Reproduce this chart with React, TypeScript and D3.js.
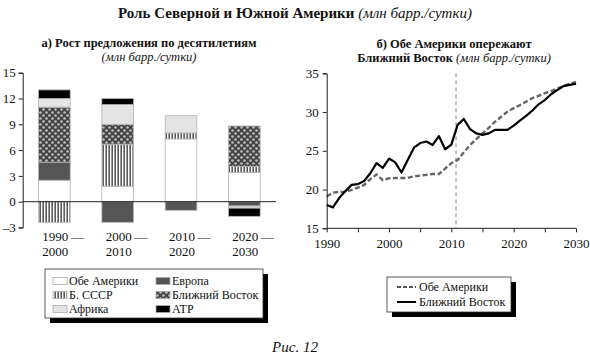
import React, { useEffect, useMemo, useRef } from "react";
import * as d3 from "d3";

const WIDTH = 590;
const HEIGHT = 362;
const FONT = "'Liberation Serif', 'Times New Roman', serif";

// left chart: growth of supply by decade
const decades = ["1990", "2000", "2010", "2020"];
const decadeEnds = ["2000", "2010", "2020", "2030"];
const regionKeys = ["americas", "fsu", "europe", "mideast", "africa", "apac"];
const americas = [2.5, 1.8, 7.3, 3.4];
const fsu = [-2.4, 4.9, 0.7, 0.7];
const europe = [2.1, -2.4, -1.0, -0.5];
const mideast = [6.4, 2.3, 0, 4.7];
const africa = [1.0, 2.3, 2.0, -0.25];
const apac = [1.0, 0.7, 0, -0.95];
const barTicks = [-3, 0, 3, 6, 9, 12, 15];

// right chart: yearly supply
const years = d3.range(1990, 2031);
const americasSupply = [
  19.1, 19.6, 19.7, 19.7, 19.95, 20.25, 20.6, 21.35, 21.95, 21.2, 21.45,
  21.5, 21.5, 21.5, 21.7, 21.8, 21.9, 22.0, 22.0, 22.7, 23.4,
  23.8, 24.8, 25.75, 26.5, 27.25, 27.95, 28.75, 29.4, 30.05, 30.5,
  30.9, 31.35, 31.8, 32.1, 32.45, 32.7, 33.05, 33.35, 33.65, 33.9,
];
const mideastSupply = [
  18.0, 17.7, 18.9, 19.8, 20.6, 20.7, 21.1, 22.1, 23.4, 22.8, 24.0,
  23.5, 22.2, 23.8, 25.4, 26.0, 26.2, 25.75, 26.9, 25.2, 25.8,
  28.35, 29.1, 27.8, 27.25, 27.05, 27.25, 27.7, 27.7, 27.7, 28.25,
  28.9, 29.5, 30.2, 31.0, 31.55, 32.3, 32.85, 33.35, 33.5, 33.65,
];
const forecastStart = 2010.75;
const lineTicksY = [15, 20, 25, 30, 35];
const lineTicksX = [1990, 2000, 2010, 2020, 2030];

const legendBars = [
  { key: "americas", label: "Обе Америки" },
  { key: "fsu", label: "Б. СССР" },
  { key: "africa", label: "Африка" },
  { key: "europe", label: "Европа" },
  { key: "mideast", label: "Ближний Восток" },
  { key: "apac", label: "АТР" },
];

const FILLS: Record<string, string> = {
  americas: "#ffffff",
  fsu: "url(#stripes)",
  europe: "#555555",
  mideast: "url(#dots)",
  africa: "#e4e4e4",
  apac: "#000000",
};

const BAR = { left: 22.7, right: 276, top: 72.7, bottom: 227.5 };
const LINE = { left: 326.7, right: 576, top: 73.3, bottom: 228.3 };

export default function App() {
  const barAxisRef = useRef(null);
  const lineAxisRef = useRef(null);

  const rows = useMemo(
    () =>
      decades.map((d, i) => ({
        decade: d,
        americas: americas[i],
        fsu: fsu[i],
        europe: europe[i],
        mideast: mideast[i],
        africa: africa[i],
        apac: apac[i],
      })),
    []
  );

  const series = useMemo(
    () =>
      d3
        .stack<any>()
        .keys(regionKeys)
        .offset(d3.stackOffsetDiverging)(rows),
    [rows]
  );

  const xBand = d3
    .scaleBand()
    .domain(decades)
    .range([BAR.left, BAR.right])
    .paddingInner(0.5)
    .paddingOuter(0.25);
  const yBar = d3.scaleLinear().domain([-3, 15]).range([BAR.bottom, BAR.top]);

  const xYear = d3.scaleLinear().domain([1990, 2030]).range([LINE.left, LINE.right]);
  const ySupply = d3.scaleLinear().domain([15, 35]).range([LINE.bottom, LINE.top]);

  const lineGen = d3
    .line<number>()
    .x((_, i) => xYear(years[i]))
    .y((d) => ySupply(d));

  useEffect(() => {
    const g = d3.select(barAxisRef.current);
    g.selectAll("*").remove();
    g.append("g")
      .attr("transform", `translate(${BAR.left},0)`)
      .call(d3.axisLeft(yBar).tickValues(barTicks).tickSize(4).tickPadding(3).tickFormat((d) => (+d < 0 ? "–" + Math.abs(+d) : String(d))));
    g.append("line")
      .attr("x1", BAR.left)
      .attr("x2", BAR.right)
      .attr("y1", yBar(0))
      .attr("y2", yBar(0))
      .attr("stroke", "#222");
    g.selectAll("text").attr("font-family", FONT).attr("font-size", 13).attr("fill", "#111");
    g.selectAll("path,line").attr("stroke", "#222");

    const h = d3.select(lineAxisRef.current);
    h.selectAll("*").remove();
    h.append("g")
      .attr("transform", `translate(${LINE.left},0)`)
      .call(d3.axisLeft(ySupply).tickValues(lineTicksY).tickSize(4).tickPadding(4));
    const xa = h
      .append("g")
      .attr("transform", `translate(0,${LINE.bottom})`)
      .call(d3.axisBottom(xYear).ticks(8).tickSize(4).tickPadding(6).tickFormat((d) => (lineTicksX.includes(+d) ? String(d) : "")));
    xa.select(".domain").attr("d", `M${LINE.left},0H${LINE.right}`);
    h.selectAll("text").attr("font-family", FONT).attr("font-size", 13).attr("fill", "#111");
    h.selectAll("path,line").attr("stroke", "#222");
  }, []);

  return (
    <svg
      width={WIDTH}
      height={HEIGHT}
      style={{ position: "absolute", left: 0, top: 0, background: "#fff" }}
      fontFamily={FONT}
    >
      <defs>
        <pattern id="stripes" width={3} height={4} patternUnits="userSpaceOnUse">
          <rect width={3} height={4} fill="#fff" />
          <rect x={0.5} width={1.3} height={4} fill="#333" />
        </pattern>
        <pattern id="dots" width={6} height={6} patternUnits="userSpaceOnUse">
          <rect width={6} height={6} fill="#444" />
          <circle cx={1.5} cy={1.5} r={1.3} fill="#c0c0c0" />
          <circle cx={4.5} cy={4.5} r={1.3} fill="#c0c0c0" />
        </pattern>
      </defs>

      {/* main title */}
      <text x={295} y={18} textAnchor="middle" fontSize={15} fill="#111">
        <tspan fontWeight="bold">Роль Северной и Южной Америки </tspan>
        <tspan fontStyle="italic">(млн барр./сутки)</tspan>
      </text>

      {/* left chart title */}
      <text x={149} y={47} textAnchor="middle" fontSize={12.5} fontWeight="bold" fill="#111">
        а) Рост предложения по десятилетиям
      </text>
      <text x={149} y={61} textAnchor="middle" fontSize={12.5} fontStyle="italic" fill="#111">
        (млн барр./сутки)
      </text>

      {/* bars */}
      <g>
        {series.map((s) =>
          s.map((d, i) => {
            if (d[1] - d[0] === 0) return null;
            return (
              <rect
                key={s.key + i}
                x={xBand(decades[i])}
                width={xBand.bandwidth()}
                y={yBar(Math.max(d[0], d[1]))}
                height={Math.abs(yBar(d[0]) - yBar(d[1]))}
                fill={FILLS[s.key]}
                stroke="#b5b5b5"
                strokeWidth={0.8}
              />
            );
          })
        )}
      </g>
      <g ref={barAxisRef} />

      {decades.map((d, i) => {
        const x = (xBand(d) as number) + xBand.bandwidth() / 2 - 12;
        return (
          <text key={d} x={x} fontSize={13} fill="#111">
            <tspan x={x} y={241}>{d}{"\u2009"}—</tspan>
            <tspan x={x} y={256}>{decadeEnds[i]}</tspan>
          </text>
        );
      })}

      {/* left legend */}
      <rect x={50} y={274} width={218} height={49} fill="#000" />
      <rect x={45} y={269} width={218} height={49} fill="#fff" stroke="#333" strokeWidth={0.8} />
      {legendBars.map((l, i) => {
        const col = Math.floor(i / 3);
        const row = i % 3;
        const x = col === 0 ? 53 : 156;
        const cy = 281 + row * 14;
        return (
          <g key={l.key}>
            <rect x={x} y={cy - 3.5} width={14} height={7} fill={FILLS[l.key]} stroke="#aaa" strokeWidth={0.8} />
            <text x={x + 16} y={cy + 4} fontSize={12} fill="#111">
              {l.label}
            </text>
          </g>
        );
      })}

      {/* right chart title */}
      <text x={454} y={48} textAnchor="middle" fontSize={12.5} fontWeight="bold" fill="#111">
        б) Обе Америки опережают
      </text>
      <text x={454} y={62} textAnchor="middle" fontSize={12.5} fill="#111">
        <tspan fontWeight="bold">Ближний Восток </tspan>
        <tspan fontStyle="italic">(млн барр./сутки)</tspan>
      </text>

      <line
        x1={xYear(forecastStart)}
        x2={xYear(forecastStart)}
        y1={LINE.top}
        y2={LINE.bottom}
        stroke="#888"
        strokeWidth={1}
        strokeDasharray="4,3"
      />
      <path d={lineGen(americasSupply) || ""} fill="none" stroke="#666" strokeWidth={2.4} strokeDasharray="5,2.5" />
      <path d={lineGen(mideastSupply) || ""} fill="none" stroke="#000" strokeWidth={2.2} strokeLinejoin="round" />
      <g ref={lineAxisRef} />

      {/* right legend */}
      <rect x={392} y={282} width={124} height={35} fill="#000" />
      <rect x={387} y={277} width={124} height={35} fill="#fff" stroke="#333" strokeWidth={0.8} />
      <line x1={397} x2={416} y1={287} y2={287} stroke="#555" strokeWidth={2} strokeDasharray="4,2" />
      <text x={419} y={291} fontSize={12} fill="#111">Обе Америки</text>
      <line x1={397} x2={416} y1={302} y2={302} stroke="#000" strokeWidth={2} />
      <text x={419} y={306} fontSize={12} fill="#111">Ближний Восток</text>

      {/* caption */}
      <text x={295} y={352} textAnchor="middle" fontSize={15} fontStyle="italic" fill="#111">
        Рис. 12
      </text>
    </svg>
  );
}
